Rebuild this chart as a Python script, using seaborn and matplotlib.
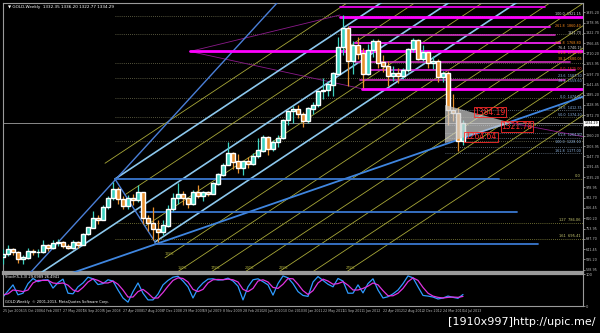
import numpy as np
import pandas as pd
import matplotlib
matplotlib.use("Agg")
import matplotlib.pyplot as plt
import seaborn as sns
from matplotlib.patches import Polygon

# ---------------- data ----------------
# 4-weekly samples of the weekly GOLD chart, week index counted from 25 Jun 2006
week = list(range(0, 372, 4))
first_open = 600
close = [615, 640, 625, 590, 595, 630, 625, 625, 665, 650,
         675, 680, 660, 650, 680, 665, 725, 760, 810, 800,
         870, 920, 970, 915, 880, 920, 910, 950, 810, 785,
         750, 735, 770, 860, 920, 940, 920, 890, 955, 935,
         950, 945, 1000, 1050, 1100, 1165, 1120, 1085, 1120, 1105,
         1150, 1180, 1255, 1190, 1225, 1250, 1345, 1395, 1405, 1380,
         1340, 1410, 1430, 1505, 1510, 1540, 1600, 1745, 1850, 1670,
         1755, 1710, 1600, 1730, 1775, 1660, 1640, 1590, 1600, 1590,
         1620, 1735, 1780, 1680, 1715, 1660, 1670, 1580, 1605, 1400,
         1385, 1235, 1330]
high = [640, 665, 650, 630, 610, 650, 645, 640, 690, 670,
        690, 695, 685, 670, 690, 685, 730, 765, 850, 830,
        880, 930, 1010, 980, 930, 935, 940, 990, 950, 830,
        870, 800, 800, 880, 950, 1005, 960, 920, 965, 990,
        960, 960, 1010, 1060, 1110, 1226, 1170, 1160, 1125, 1145,
        1165, 1250, 1265, 1260, 1235, 1265, 1350, 1400, 1425, 1430,
        1390, 1415, 1445, 1510, 1575, 1560, 1610, 1800, 1920, 1860,
        1780, 1800, 1740, 1760, 1790, 1790, 1700, 1670, 1640, 1630,
        1630, 1740, 1796, 1790, 1755, 1725, 1695, 1680, 1615, 1615,
        1490, 1420, 1345]
low = [560, 605, 610, 565, 560, 590, 610, 600, 620, 630,
       645, 660, 650, 640, 645, 650, 665, 720, 760, 780,
       800, 860, 910, 890, 860, 860, 880, 900, 780, 740,
       690, 681, 720, 760, 850, 890, 880, 865, 880, 920,
       905, 930, 940, 990, 1040, 1100, 1080, 1060, 1045, 1085,
       1100, 1140, 1170, 1155, 1180, 1200, 1245, 1320, 1330, 1360,
       1310, 1330, 1380, 1420, 1460, 1480, 1480, 1590, 1700, 1535,
       1600, 1680, 1520, 1590, 1690, 1630, 1610, 1530, 1560, 1550,
       1570, 1610, 1720, 1675, 1670, 1630, 1625, 1555, 1555, 1320,
       1340, 1180, 1210]
stoch_k = [28, 47, 66, 35, 40, 70, 86, 76, 81, 82,
           56, 73, 84, 40, 38, 60, 72, 90, 85, 67,
           70, 82, 78, 50, 25, 12, 45, 72, 40, 19,
           19, 37, 66, 80, 90, 93, 78, 60, 25, 55,
           72, 84, 85, 81, 82, 87, 78, 62, 19, 60,
           82, 85, 76, 66, 34, 70, 94, 88, 70, 45,
           33, 30, 75, 92, 80, 68, 60, 86, 78, 40,
           40, 66, 41, 70, 85, 50, 25, 29, 38, 50,
           70, 94, 88, 60, 33, 31, 28, 22, 25, 31,
           27, 24, 36]
stoch_d = [35, 38, 50, 48, 45, 50, 72, 80, 80, 80,
           72, 70, 72, 65, 50, 45, 58, 75, 85, 80,
           72, 72, 78, 68, 50, 28, 28, 45, 52, 40,
           25, 25, 42, 62, 80, 88, 86, 75, 52, 45,
           52, 72, 82, 83, 82, 84, 82, 75, 52, 45,
           55, 78, 82, 75, 58, 55, 68, 86, 85, 68,
           48, 36, 48, 72, 84, 78, 68, 70, 76, 65,
           50, 50, 55, 62, 72, 66, 48, 32, 32, 40,
           55, 76, 88, 80, 58, 40, 31, 27, 25, 27,
           28, 27, 30]

date_weeks = list(range(0, 384, 16))
date_labels = ["25 Jun 2006", "15 Oct 2006", "4 Feb 2007", "27 May 2007", "16 Sep 2007",
               "6 Jan 2008", "27 Apr 2008", "17 Aug 2008", "7 Dec 2008", "29 Mar 2009",
               "19 Jul 2009", "8 Nov 2009", "28 Feb 2010", "20 Jun 2010", "10 Oct 2010",
               "30 Jan 2011", "22 May 2011", "11 Sep 2011", "1 Jan 2012", "22 Apr 2012",
               "12 Aug 2012", "2 Dec 2012", "24 Mar 2013", "14 Jul 2013"]
price_ticks = [528.95, 585.20, 641.45, 697.70, 753.95, 810.20, 866.45, 922.70, 978.95,
               1035.20, 1091.45, 1147.70, 1203.95, 1260.20, 1316.45, 1372.70, 1428.95,
               1485.20, 1541.45, 1597.70, 1653.95, 1710.20, 1766.45, 1822.70, 1878.95, 1935.20]

# drawing objects (week, price)
pitchfork_w = [30.0, 89.6, 121.6]
pitchfork_p = [511.0, 1024.6, 680.6]
warning_steps = [-1, 1, 3, 5, 6, 7, 8, 9, 10, 11]
warning_labels = {5: "125%", 6: "150%", 7: "175%", 8: "200%", 9: "225%", 11: "275%"}
steep_w, steep_p = [21.6, 219.2], [511.0, 1985.5]
support_w, support_p = [55.2, 465.6], [511.3, 1477.7]

fibo_blue_p = [1023.0, 846.0, 672.4]
fibo_blue_from = [89.6, 109.6, 121.6]
fibo_blue_to = [396.8, 411.2, 428.0]
fibo_dot_p = [1023.0, 786.0, 695.0]
fibo_dot_from = [396.8, 91.0, 89.6]
fibo_dot_text = ["0.0", "127  786.06", "161  695.41"]

mag_p = [1965, 1910.7, 1856, 1811, 1767, 1721, 1663, 1620, 1565, 1516]
mag_from = [269.6, 269.6, 277.6, 277.6, 281.6, 149.6, 281.6, 289.6, 285.6, 287.2]
mag_to = [433.6, 465.6, 437.6, 441.6, 445.6, 465.6, 453.6, 457.6, 449.6, 465.6]
mag_lw = [1.2, 2.0, 1.4, 1.2, 1.4, 2.0, 1.2, 1.2, 1.2, 2.0]
mag_col = ["#FF00FF", "#FF00FF", "#E020E0", "#D030C0", "#E020E0", "#FF00FF",
           "#D030C0", "#E020E0", "#D030C0", "#FF00FF"]
fan_w = [[149.6, 269.6], [149.6, 288.0], [407.2, 465.6]]
fan_p = [[1721, 1920], [1721, 1516], [1330, 1254]]

left_dot_p = [1916, 1814.6, 1656, 1574.4, 1468.5, 1363, 1233.7]
right_dot_p = [1401, 1319, 1276, 1248.4, 1199, 1166.5]

tri_w = [353.6, 353.6, 407.2]
tri_p = [1428.6, 1221.0, 1330.0]
tri_text = ["1384.19", "1321.78", "1264.64"]
tri_text_w = [389.6, 411.2, 382.4]
tri_text_p = [1390, 1311, 1254]

level_text = ["100.0  1921.15", "261.8  1860.40", "1821.70", "161.8  1768.80",
              "76.4  1740.15", "61.8  1712.50", "38.2  1680.05",
              "0.0  1625.00", "23.6  1587.30", "38.2  1559.60", "0.0  1474.00", "23.6  1412.35",
              "50.0  1374.20", "61.8  1264.80", "100.0  1228.10", "161.8  1177.00"]
level_p = [1924, 1860, 1821.7, 1768.8, 1740, 1712.5, 1682,
           1625, 1587, 1559.6, 1474, 1412, 1374, 1264.8, 1228, 1177]
level_col = ["#DDDDDD", "#FF8C1A", "#DDDDDD", "#FF8C1A", "#DDDDDD", "#FF8C1A",
             "#FF8C1A", "#FF3A2A", "#8FB8E8", "#8FB8E8", "#8FB8E8",
             "#8FB8E8", "#8FB8E8", "#8FB8E8", "#8FB8E8", "#8FB8E8"]

current_price = 1329
current_label = "1334.29"
header = "\u25bc GOLD,Weekly  1332.35 1336.20 1322.77 1334.29"

# ---------------- figure ----------------
sns.set_theme(style="dark", rc={"axes.facecolor": "black", "figure.facecolor": "black",
                                "axes.edgecolor": "#9A9A9A", "text.color": "white",
                                "xtick.color": "#BBBBBB", "ytick.color": "#BBBBBB"})
plt.rcParams["font.family"] = ["DejaVu Sans"]

fig = plt.figure(figsize=(6, 3.33), dpi=100, facecolor="black")
ax = fig.add_axes([3 / 600, 61 / 333, 580 / 600, 269 / 333])
ax2 = fig.add_axes([3 / 600, 27 / 333, 580 / 600, 32 / 333])
for a in (ax, ax2):
    a.set_facecolor("black")
    for s in a.spines.values():
        s.set_color("#9A9A9A")
        s.set_linewidth(0.8)
ax.spines["bottom"].set_linewidth(1.6)
ax2.spines["top"].set_linewidth(1.6)

XMAX = 464.0
YMIN, YMAX = 516.8, 1985.5
ax.set_xlim(0, XMAX)
ax.set_ylim(YMIN, YMAX)

# --- horizontal dotted levels
for p in left_dot_p:
    ax.plot([89.6, XMAX], [p, p], color="#707050", lw=0.6, ls=(0, (1, 1.5)), zorder=1)
for p in right_dot_p:
    ax.plot([353.6, XMAX], [p, p], color="#6F7F90", lw=0.6, ls=(0, (1, 1.5)), zorder=1)
for p, w0, t in zip(fibo_dot_p, fibo_dot_from, fibo_dot_text):
    ax.plot([w0, XMAX], [p, p], color="#8A8A40", lw=0.6, ls=(0, (1, 1.5)), zorder=1)
    ax.text(462, p + 5, t, color="#C8C870", fontsize=2.6, ha="right", va="bottom", zorder=6)

# current price line
ax.axhline(current_price, color="#8A8A8A", lw=0.7, zorder=1)

# --- pitchfork
mid_w = (pitchfork_w[1] + pitchfork_w[2]) / 2
mid_p = (pitchfork_p[1] + pitchfork_p[2]) / 2
slope = (mid_p - pitchfork_p[0]) / (mid_w - pitchfork_w[0])
L = 500
for w0, p0 in [(pitchfork_w[0], pitchfork_p[0]), (pitchfork_w[1], pitchfork_p[1]),
               (pitchfork_w[2], pitchfork_p[2])]:
    ax.plot([w0, w0 + L], [p0, p0 + slope * L], color="#8CC8EE", lw=1.2, zorder=3)
ax.plot(pitchfork_w[1:], pitchfork_p[1:], color="#4A7FD8", lw=1.0, zorder=3)
dw = pitchfork_w[2] - pitchfork_w[1]
dp = pitchfork_p[2] - pitchfork_p[1]
for k in warning_steps:
    w0 = pitchfork_w[1] + 0.25 * k * dw
    p0 = pitchfork_p[1] + 0.25 * k * dp
    ax.plot([w0, w0 + L], [p0, p0 + slope * L], color="#A8A838", lw=0.6, zorder=2)
    if k in warning_labels:
        if p0 < YMIN:
            lw_ = w0 + (YMIN - p0) / slope
            lp_ = YMIN + 12
        else:
            lw_, lp_ = w0, p0 + 10
        ax.text(lw_, lp_, warning_labels[k], color="#B8B840", fontsize=2.4, ha="left",
                va="bottom", zorder=6)

# steep and support lines
ax.plot(steep_w, steep_p, color="#4A7FD8", lw=1.0, zorder=3)
ax.plot(support_w, support_p, color="#3F86E0", lw=1.3, zorder=3)

# fibonacci blue horizontals
for p, w0, w1 in zip(fibo_blue_p, fibo_blue_from, fibo_blue_to):
    ax.plot([w0, w1], [p, p], color="#3A78D0", lw=1.3, zorder=3)

# magenta levels
for p, w0, w1, lw, c in zip(mag_p, mag_from, mag_to, mag_lw, mag_col):
    ax.plot([w0, w1], [p, p], color=c, lw=lw, zorder=3)
for fw, fp in zip(fan_w, fan_p):
    ax.plot(fw, fp, color="#8B1A8B", lw=0.6, zorder=2)

# level labels on the right
for t, p, c in zip(level_text, level_p, level_col):
    ax.text(462.5, p, t, color=c, fontsize=2.4, ha="right", va="center", zorder=6)

# --- candles
opens = [first_open] + close[:-1]
df = pd.DataFrame({"week": week, "open": opens, "close": close, "high": high, "low": low})
df["up"] = df["close"] >= df["open"]
cols = np.where(df["up"], "#3CD2C0", "#E8902E")
ax.vlines(df["week"], df["low"], df["high"], colors=cols, lw=0.9, zorder=4)
ax.bar(df["week"], (df["close"] - df["open"]).abs() + 2,
       bottom=np.minimum(df["open"], df["close"]) - 1, width=3.0, color=cols, zorder=4)

# --- triangle with labels
ax.add_patch(Polygon(list(zip(tri_w, tri_p)), closed=True, facecolor="#D0D0D0",
                     edgecolor="none", alpha=0.7, zorder=5))
for t, w0, p in zip(tri_text, tri_text_w, tri_text_p):
    ax.text(w0, p, t, color="#FF2A2A", fontsize=5.5, ha="center", va="center", zorder=7,
            bbox=dict(facecolor="none", edgecolor="#FF2A2A", lw=0.6, pad=0.6))

# header
ax.text(0.008, 0.993, header, transform=ax.transAxes, color="white", fontsize=3,
        ha="left", va="top")

# right price axis
ax.yaxis.tick_right()
ax.set_yticks(price_ticks)
ax.set_yticklabels([f"{v:.2f}" for v in price_ticks])
ax.tick_params(axis="y", labelsize=2.4, length=1.2, width=0.5, pad=0.8, colors="#BBBBBB")
ax.set_xticks([])

# current price tag
ax.text(1.003, (current_price - YMIN) / (YMAX - YMIN), current_label, transform=ax.transAxes,
        color="black", fontsize=2.3, ha="left", va="center",
        bbox=dict(facecolor="white", edgecolor="none", pad=0.3))

# --- stochastic panel
sdf = pd.DataFrame({"week": week, "k": stoch_k, "d": stoch_d})
sns.lineplot(data=sdf, x="week", y="k", ax=ax2, color="#2E9BFF", lw=0.9)
sns.lineplot(data=sdf, x="week", y="d", ax=ax2, color="#E033E0", lw=0.9)
ax2.set_xlim(0, XMAX)
ax2.set_ylim(0, 100)
ax2.set_xlabel("")
ax2.set_ylabel("")
ax2.yaxis.tick_right()
ax2.set_yticks([100, 0])
ax2.set_yticklabels(["100", "0"])
ax2.tick_params(axis="y", labelsize=2.6, length=1.2, width=0.5, pad=0.8, colors="#BBBBBB")
ax2.set_xticks(date_weeks)
ax2.set_xticklabels(date_labels, ha="left")
ax2.tick_params(axis="x", labelsize=2.3, length=1.5, width=0.5, pad=1, colors="#BBBBBB")
ax2.text(0.004, 0.97, "Stoch(5,3,3) 29.6989 26.4941", transform=ax2.transAxes,
         color="white", fontsize=2.6, ha="left", va="top")
ax2.text(0.004, 0.06, "GOLD,Weekly  \u00a9 2001-2013, MetaQuotes Software Corp.",
         transform=ax2.transAxes, color="white", fontsize=2.6, ha="left", va="bottom")

# watermark
fig.text(0.992, 0.032, "[1910x997]http://upic.me/", color="white", fontsize=8.0,
         ha="right", va="center")

fig.savefig("out.png", dpi=100, facecolor="black")
